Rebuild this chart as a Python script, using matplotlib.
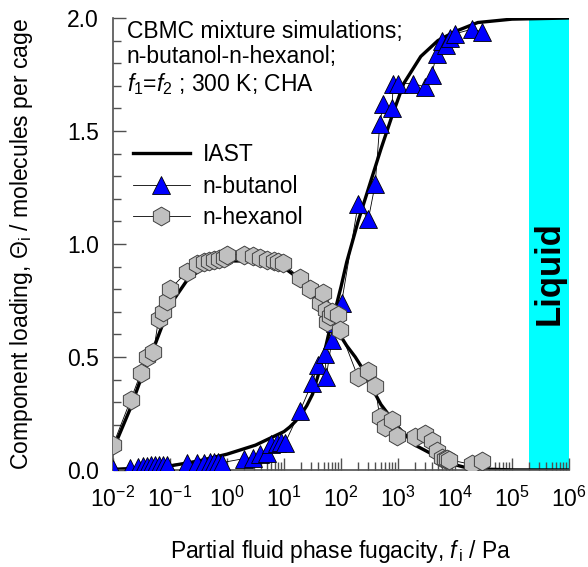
import numpy as np
import matplotlib
matplotlib.use("Agg")
import matplotlib.pyplot as plt
from matplotlib.lines import Line2D
from matplotlib.ticker import LogLocator, FixedLocator, MultipleLocator

plt.rcParams['font.family'] = ['Liberation Sans', 'DejaVu Sans']
plt.rcParams['mathtext.fontset'] = 'custom'
plt.rcParams['mathtext.rm'] = 'Liberation Sans'
plt.rcParams['mathtext.it'] = 'Liberation Sans:italic'
plt.rcParams['mathtext.bf'] = 'Liberation Sans:bold'
plt.rcParams['axes.unicode_minus'] = False

# ---- data (log10 fugacity / Pa, loading) ----
iast_but_logf = [-2.0, -1.5, -1.0, -0.5, 0.0, 0.5, 1.0, 1.1, 1.2, 1.3, 1.4, 1.5, 1.6, 1.7, 1.8,
                 1.9, 2.0, 2.1, 2.2, 2.3, 2.5, 2.7, 2.9, 3.1, 3.4, 3.7, 4.0, 4.4, 5.0, 6.0]
iast_but_q = [0.003, 0.008, 0.018, 0.04, 0.07, 0.11, 0.17, 0.19, 0.215, 0.245, 0.285, 0.335, 0.42,
              0.51, 0.62, 0.71, 0.81, 0.92, 1.01, 1.10, 1.26, 1.42, 1.57, 1.71, 1.83, 1.90, 1.94,
              1.98, 1.995, 2.0]

iast_hex_logf = [-2.0, -1.85, -1.7, -1.5, -1.3, -1.0, -0.7, -0.4, 0.0, 0.3, 0.7, 1.0, 1.3, 1.45,
                 1.6, 1.75, 1.9, 2.0, 2.1, 2.25, 2.4, 2.55, 2.7, 2.85, 3.0, 3.15, 3.3, 3.45, 3.6,
                 3.75, 3.9, 4.2, 4.5, 5.0, 6.0]
iast_hex_q = [0.09, 0.18, 0.27, 0.41, 0.53, 0.73, 0.84, 0.90, 0.925, 0.925, 0.915, 0.895, 0.84, 0.80,
              0.74, 0.69, 0.63, 0.59, 0.55, 0.50, 0.44, 0.36, 0.29, 0.24, 0.19, 0.15, 0.11, 0.09, 0.07,
              0.05, 0.03, 0.01, 0.004, 0.0005, 0.0]

but_logf = [-2.00, -1.70, -1.56, -1.47, -1.40, -1.33, -1.26, -1.19, -1.12, -1.05,
            -0.71, -0.53, -0.40, -0.30, -0.22, -0.15, -0.08, 0.29, 0.46, 0.58,
            0.70, 0.78, 0.87, 0.95, 1.02, 1.28, 1.49, 1.60, 1.72, 1.74,
            1.84, 1.90, 2.01, 2.30, 2.48, 2.60, 2.68, 2.74, 2.89, 2.92,
            3.00, 3.27, 3.47, 3.59, 3.68, 3.77, 3.85, 3.91, 4.00, 4.29, 4.47]
but_q = [0.005, 0.01, 0.015, 0.017, 0.018, 0.02, 0.02, 0.022, 0.022, 0.023,
         0.03, 0.03, 0.033, 0.035, 0.035, 0.035, 0.033, 0.05, 0.055, 0.07,
         0.077, 0.117, 0.12, 0.125, 0.12, 0.26, 0.385, 0.463, 0.515, 0.41,
         0.575, 0.65, 0.74, 1.176, 1.11, 1.265, 1.53, 1.62, 1.60, 1.71,
         1.71, 1.71, 1.695, 1.75, 1.84, 1.90, 1.88, 1.91, 1.93, 1.95, 1.94]

hex_logf = [-2.00, -1.69, -1.51, -1.40, -1.29, -1.20, -1.12, -1.06, -1.00, -0.71,
            -0.53, -0.41, -0.32, -0.23, -0.14, -0.06, 0.00, 0.29, 0.46, 0.58,
            0.70, 0.82, 0.90, 0.98, 1.28, 1.46, 1.64, 1.69, 1.73, 1.75,
            1.80, 1.84, 1.95, 1.98, 2.30, 2.48, 2.60, 2.68, 2.77, 2.89,
            2.98, 3.30, 3.47, 3.59, 3.68, 3.77, 3.82, 3.86, 3.90, 4.29, 4.47]
hex_q = [0.11, 0.31, 0.43, 0.50, 0.52, 0.67, 0.70, 0.75, 0.80, 0.875,
         0.91, 0.92, 0.925, 0.93, 0.935, 0.94, 0.953, 0.953, 0.945, 0.94,
         0.93, 0.925, 0.92, 0.915, 0.85, 0.80, 0.74, 0.785, 0.71, 0.656,
         0.68, 0.70, 0.686, 0.62, 0.41, 0.44, 0.37, 0.233, 0.19, 0.22,
         0.15, 0.144, 0.16, 0.13, 0.085, 0.055, 0.05, 0.05, 0.045, 0.025, 0.04]

liquid_range = [2e5, 1e6]
x_ticks = [1e-2, 1e-1, 1e0, 1e1, 1e2, 1e3, 1e4, 1e5, 1e6]
y_ticks = [0.0, 0.5, 1.0, 1.5, 2.0]

FS = 16.5
fig = plt.figure(figsize=(5.88, 5.67), dpi=100)
ax = fig.add_axes([113/588, 1-470/567, (569-113)/588, (470-18)/567])

ax.axvspan(liquid_range[0], liquid_range[1], color='#00ffff', zorder=0, lw=0)

ax.plot(10**np.array(iast_but_logf), iast_but_q, color='black', lw=2.4, zorder=2)
ax.plot(10**np.array(iast_hex_logf), iast_hex_q, color='black', lw=2.4, zorder=2)

tri_kw = dict(color='black', lw=0.6, marker='^', ms=12.5, mfc='#0000ff', mec='black', mew=0.6)
hex_kw = dict(color='black', lw=0.6, marker='h', ms=13.5, mfc='#c0c0c0', mec='#404040', mew=0.7)
ax.plot(10**np.array(but_logf), but_q, zorder=3, **tri_kw)
ax.plot(10**np.array(hex_logf), hex_q, zorder=3, **hex_kw)

ax.set_xscale('log')
ax.set_xlim(1e-2, 1e6)
ax.set_ylim(0, 2.0)
ax.xaxis.set_major_locator(FixedLocator(x_ticks))
ax.xaxis.set_minor_locator(LogLocator(base=10, subs=np.arange(2, 10), numticks=20))
ax.yaxis.set_major_locator(FixedLocator(y_ticks))
ax.yaxis.set_minor_locator(MultipleLocator(0.1))
ax.set_yticklabels(['0.0', '0.5', '1.0', '1.5', '2.0'])

for s in ['top', 'right']:
    ax.spines[s].set_visible(False)
for s in ['left', 'bottom']:
    ax.spines[s].set_color('#505050')
    ax.spines[s].set_linewidth(1.2)

ax.tick_params(which='both', direction='in', colors='#505050', labelcolor='black',
               labelsize=FS, width=1.0)
ax.tick_params(which='major', length=9)
ax.tick_params(which='minor', length=6)
ax.tick_params(axis='x', pad=12)
ax.tick_params(axis='y', pad=10)

ax.set_xlabel(r'Partial fluid phase fugacity, $\it{f}_{\,\mathrm{i}}$ / Pa', fontsize=FS, labelpad=19)
ax.set_ylabel(r'Component loading, $\Theta_\mathrm{i}$ / molecules per cage', fontsize=FS, labelpad=23)

ax.text(0.03, 0.995, 'CBMC mixture simulations;\nn-butanol-n-hexanol;\n'
        r'$\it{f}_1$=$\it{f}_2$ ; 300 K; CHA',
        transform=ax.transAxes, fontsize=FS, va='top', ha='left', linespacing=1.12)

ax.text(4.5e5, 0.87, 'Liquid', rotation=90, fontsize=25, fontweight='bold',
        ha='center', va='center')

handles = [Line2D([], [], color='black', lw=2.4),
           Line2D([], [], **tri_kw),
           Line2D([], [], **hex_kw)]
ax.legend(handles, ['IAST', 'n-butanol', 'n-hexanol'], loc='upper left',
          bbox_to_anchor=(0.023, 0.744), frameon=False, fontsize=FS,
          handlelength=2.5, handletextpad=0.55, labelspacing=0.38, borderaxespad=0)

fig.savefig('out.png', dpi=100)
